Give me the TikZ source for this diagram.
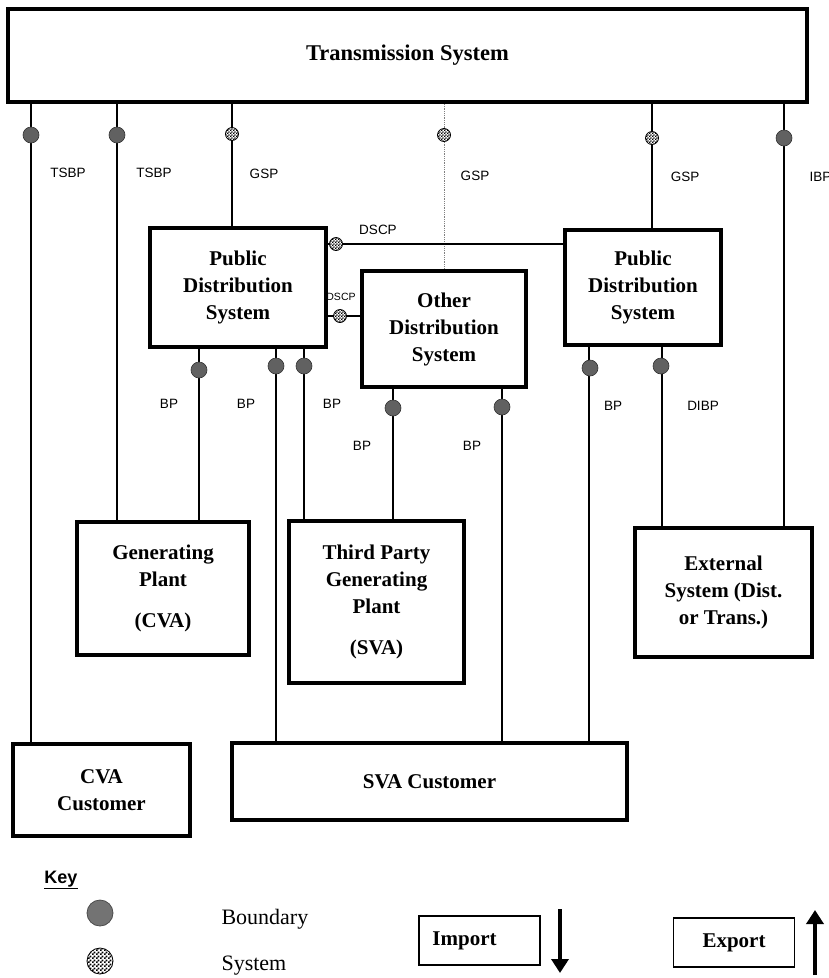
\documentclass[tikz,border=0pt]{standalone}
\usepackage{fontspec}
\setmainfont{Liberation Serif}
\setsansfont{Liberation Sans}
\usetikzlibrary{patterns,arrows.meta}

% fine checks for the system points
\pgfdeclarepatternformonly{finecheck}{\pgfqpoint{0pt}{0pt}}{\pgfqpoint{3.2pt}{3.2pt}}{\pgfqpoint{3.2pt}{3.2pt}}{%
  \pgfpathrectangle{\pgfqpoint{0pt}{0pt}}{\pgfqpoint{1.6pt}{1.6pt}}%
  \pgfpathrectangle{\pgfqpoint{1.6pt}{1.6pt}}{\pgfqpoint{1.6pt}{1.6pt}}%
  \pgfusepath{fill}}
\pgfdeclarepatternformonly{keycheck}{\pgfqpoint{0pt}{0pt}}{\pgfqpoint{4pt}{4pt}}{\pgfqpoint{4pt}{4pt}}{%
  \pgfpathrectangle{\pgfqpoint{0pt}{0pt}}{\pgfqpoint{2pt}{2pt}}%
  \pgfpathrectangle{\pgfqpoint{2pt}{2pt}}{\pgfqpoint{2pt}{2pt}}%
  \pgfusepath{fill}}

\begin{document}
\begin{tikzpicture}[x=1pt,y=-1pt,
  box/.style={draw,line width=4pt,fill=white,align=center,inner sep=0pt,
    font=\bfseries\fontsize{21}{27}\selectfont},
  wire/.style={line width=2.8pt},
  bmark/.style={circle,draw=black!80,line width=0.6pt,fill=black!62,minimum size=16pt,inner sep=0pt},
  smark/.style={circle,draw=black,line width=0.8pt,preaction={fill=white},pattern=finecheck,minimum size=13pt,inner sep=0pt},
  lbl/.style={font=\sffamily\fontsize{13.5}{15}\selectfont},
  keybox/.style={draw,line width=1.5pt,font=\bfseries\fontsize{21}{25}\selectfont,minimum width=121pt,minimum height=49pt}]
  \useasboundingbox (0,0) rectangle (829,978);

  % boxes
  \node[box,minimum width=799pt,minimum height=93pt,font=\bfseries\fontsize{22.5}{27}\selectfont] (ts) at (407.5,55.5) {Transmission System};
  \node[box,minimum width=176pt,minimum height=119pt] (pds1) at (238,287.5) {Public\\Distribution\\System};
  \node[box,minimum width=164pt,minimum height=116pt] (ods) at (444,329) {Other\\Distribution\\System};
  \node[box,minimum width=156pt,minimum height=115pt] (pds2) at (643,287.5) {Public\\Distribution\\System};
  \node[box,minimum width=172pt,minimum height=133pt] (gp) at (163,588.5) {Generating\\Plant\\[14pt](CVA)};
  \node[box,minimum width=175pt,minimum height=162pt] (tp) at (376.5,602) {Third Party\\Generating\\Plant\\[14pt](SVA)};
  \node[box,minimum width=177pt,minimum height=129pt] (ext) at (723.5,592.5) {External\\System (Dist.\\or Trans.)};
  \node[box,minimum width=177pt,minimum height=92pt] (cva) at (101.5,790) {CVA\\Customer};
  \node[box,minimum width=395pt,minimum height=77pt] (sva) at (429.5,781.5) {SVA Customer};

  % tap positions
  \foreach \nm/\xx in {a/31,b/117,c/232,d/444,e/652,f/784,g/199,h/276,i/304,j/393,k/502,l/589,m/662}
    \coordinate (\nm) at (\xx,0);
  \coordinate (dsa) at (0,244);
  \coordinate (dsb) at (0,316);

  % connections
  \draw[wire] (ts.south -| a) -- (cva.north -| a);
  \draw[wire] (ts.south -| b) -- (gp.north -| b);
  \draw[wire] (ts.south -| c) -- (pds1.north -| c);
  \draw[gray,densely dotted,line width=0.8pt] (ts.south -| d) -- (ods.north -| d);
  \draw[wire] (ts.south -| e) -- (pds2.north -| e);
  \draw[wire] (ts.south -| f) -- (ext.north -| f);
  \draw[wire] (pds1.south -| g) -- (gp.north -| g);
  \draw[wire] (pds1.south -| h) -- (sva.north -| h);
  \draw[wire] (pds1.south -| i) -- (tp.north -| i);
  \draw[wire] (ods.south -| j) -- (tp.north -| j);
  \draw[wire] (ods.south -| k) -- (sva.north -| k);
  \draw[wire] (pds2.south -| l) -- (sva.north -| l);
  \draw[wire] (pds2.south -| m) -- (ext.north -| m);
  \draw[wire] (pds1.east |- dsa) -- (pds2.west |- dsa);
  \draw[wire] (pds1.east |- dsb) -- (ods.west |- dsb);

  % points
  \node[bmark] at (31,135) {};
  \node[bmark] at (117,135) {};
  \node[smark] at (232,134) {};
  \node[smark] at (444,135) {};
  \node[smark] at (652,138) {};
  \node[bmark] at (784,138) {};
  \node[bmark] at (199,370) {};
  \node[bmark] at (276,366) {};
  \node[bmark] at (304,366) {};
  \node[bmark] at (393,408) {};
  \node[bmark] at (502,407) {};
  \node[bmark] at (590,368) {};
  \node[bmark] at (661,366) {};
  \node[smark] at (336,244) {};
  \node[smark] at (340,316) {};

  % labels
  \node[lbl] at (68,173) {TSBP};
  \node[lbl] at (154,173) {TSBP};
  \node[lbl] at (264,174) {GSP};
  \node[lbl] at (475,176) {GSP};
  \node[lbl] at (685,177) {GSP};
  \node[lbl,anchor=west] at (806,177) {IBP};
  \node[lbl] at (378,230) {DSCP};
  \node[lbl,font=\sffamily\fontsize{10.5}{12}\selectfont] at (341,297) {DSCP};
  \node[lbl] at (169,404) {BP};
  \node[lbl] at (246,404) {BP};
  \node[lbl] at (332,404) {BP};
  \node[lbl] at (362,446) {BP};
  \node[lbl] at (472,446) {BP};
  \node[lbl] at (613,406) {BP};
  \node[lbl] at (703,406) {DIBP};

  % key
  \node[font=\sffamily\bfseries\fontsize{18}{20}\selectfont] (key) at (61,880) {\underline{Key}};
  \node[circle,draw=black!70,line width=0.8pt,fill=black!55,minimum width=26pt,inner sep=0pt] (kb) at (100,913) {};
  \node[anchor=west,font=\fontsize{22}{24}\selectfont] (kbt) at (218,919) {Boundary};
  \node[circle,draw=black,line width=0.8pt,preaction={fill=white},pattern=keycheck,minimum width=26pt,inner sep=0pt] (ks) at (100,961) {};
  \node[anchor=west,font=\fontsize{22}{24}\selectfont] (kst) at (218,966) {System};
  \node[keybox] (imp) at (479.5,940.5) {Import\hspace*{30pt}};
  \node[keybox] (exp) at (734,942.5) {Export};
  \coordinate (impa) at (560,909);
  \coordinate (impb) at (560,973);
  \coordinate (expa) at (815,975);
  \coordinate (expb) at (815,910);
  \draw[line width=4.5pt,-{Triangle[width=17pt,length=14pt]}] (impa) -- (impb);
  \draw[line width=4.5pt,-{Triangle[width=17pt,length=14pt]}] (expa) -- (expb);
\end{tikzpicture}
\end{document}
